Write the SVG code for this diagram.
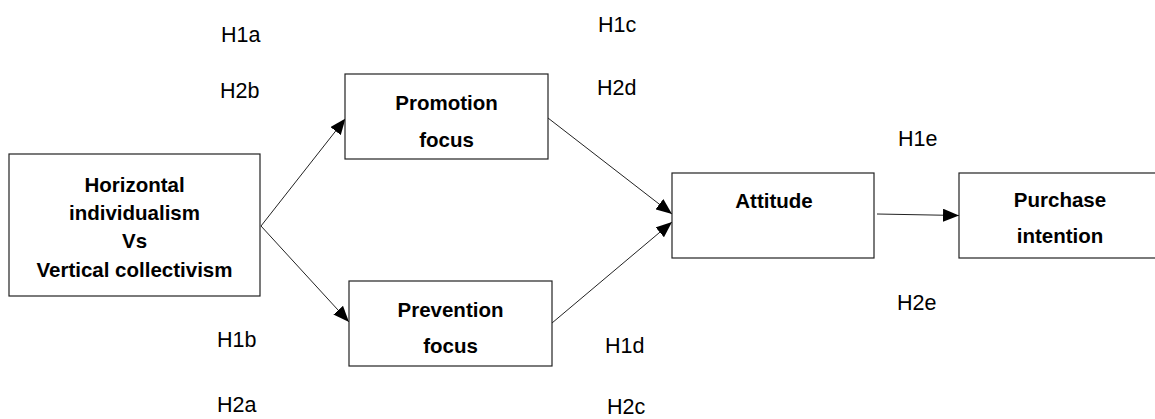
<svg xmlns="http://www.w3.org/2000/svg" width="1155" height="419" viewBox="0 0 1155 419">
<defs>
<marker id="arr" markerUnits="userSpaceOnUse" markerWidth="17" markerHeight="13" refX="16" refY="6.5" orient="auto">
<path d="M0,0 L16,6.5 L0,13 Z" fill="#000"/>
</marker>
<style>
.box{fill:#fff;stroke:#222;stroke-width:1.2}
.t{font-family:"Liberation Sans",Arial,sans-serif;font-weight:bold;font-size:20.5px;fill:#000;text-anchor:middle}
.h{font-family:"Liberation Sans",Arial,sans-serif;font-size:21.5px;fill:#000}
.c{stroke:#222;stroke-width:1;fill:none;marker-end:url(#arr)}
</style>
</defs>
<rect width="1155" height="419" fill="#fff"/>
<g id="connectors">
<line class="c" x1="261" y1="226" x2="345.5" y2="118.5"/>
<line class="c" x1="261" y1="226" x2="349" y2="322"/>
<line class="c" x1="548" y1="118" x2="672" y2="214"/>
<line class="c" x1="552" y1="323" x2="672" y2="222"/>
<line class="c" x1="877" y1="214" x2="959" y2="215.5"/>
</g>
<g id="node-hivc">
<rect class="box" x="9" y="154" width="251" height="142"/>
<text class="t" x="134.5" y="192">Horizontal</text>
<text class="t" x="134.5" y="220">individualism</text>
<text class="t" x="134.5" y="248">Vs</text>
<text class="t" x="134.5" y="277">Vertical collectivism</text>
</g>
<g id="node-promotion">
<rect class="box" x="345" y="74" width="203" height="85"/>
<text class="t" x="446.5" y="110">Promotion</text>
<text class="t" x="446.5" y="147">focus</text>
</g>
<g id="node-prevention">
<rect class="box" x="349" y="281" width="203" height="85"/>
<text class="t" x="450.5" y="317">Prevention</text>
<text class="t" x="450.5" y="353">focus</text>
</g>
<g id="node-attitude">
<rect class="box" x="672" y="173" width="202" height="85"/>
<text class="t" x="774" y="208">Attitude</text>
</g>
<g id="node-purchase">
<rect class="box" x="959" y="173" width="202" height="85"/>
<text class="t" x="1060" y="207">Purchase</text>
<text class="t" x="1060" y="243">intention</text>
</g>
<g id="labels">
<text class="h" x="221" y="42">H1a</text>
<text class="h" x="220" y="98">H2b</text>
<text class="h" x="598" y="32">H1c</text>
<text class="h" x="597" y="95">H2d</text>
<text class="h" x="217" y="347">H1b</text>
<text class="h" x="217" y="412">H2a</text>
<text class="h" x="605" y="353">H1d</text>
<text class="h" x="607" y="414">H2c</text>
<text class="h" x="898" y="146">H1e</text>
<text class="h" x="897" y="310">H2e</text>
</g>
</svg>
